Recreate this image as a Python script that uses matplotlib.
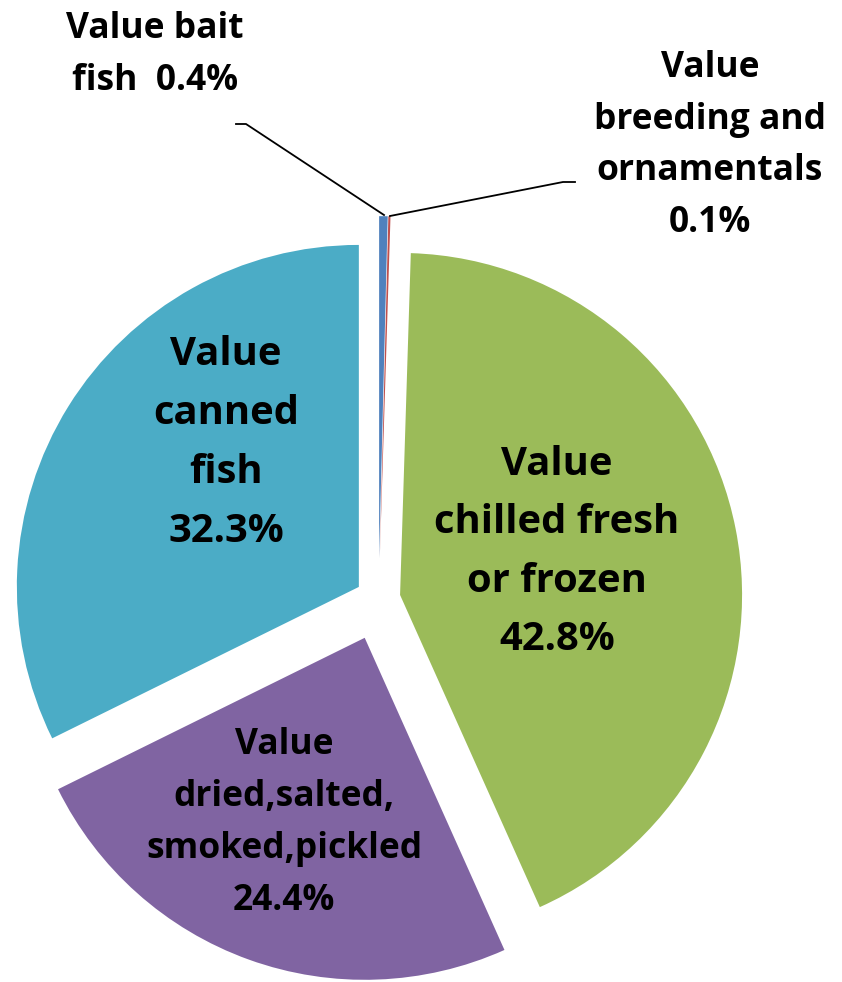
import matplotlib
matplotlib.use("Agg")
import matplotlib.pyplot as plt
from matplotlib.lines import Line2D

# data (share of value, %)
categories = ["Value bait fish", "Value breeding and ornamentals",
              "Value chilled fresh or frozen", "Value dried,salted,smoked,pickled",
              "Value canned fish"]
shares = [0.4, 0.1, 42.8, 24.4, 32.3]
colors = ["#4F81BD", "#C0504D", "#9BBB59", "#8064A2", "#4BACC6"]
explode = [0.12, 0.12, 0.064, 0.12, 0.068]

# label text, split the way the chart wraps it
label_lines = [
    ["Value bait", "fish  0.4%"],
    ["Value", "breeding and", "ornamentals", "0.1%"],
    ["Value", "chilled fresh", "or frozen", "42.8%"],
    ["Value", "dried,salted,", "smoked,pickled", "24.4%"],
    ["Value", "canned", "fish", "32.3%"],
]

W, H = 842, 982
fig = plt.figure(figsize=(W / 100, H / 100), dpi=100)
ax = fig.add_axes([0, 0, 1, 1])

# pie centre and radius in pixels
cx, cy, R = 378.6, 599.2, 342.0

ax.pie(shares, colors=colors, explode=explode, startangle=90,
       counterclock=False, wedgeprops=dict(linewidth=0))
ax.set_xlim(-cx / R, (W - cx) / R)
ax.set_ylim(-(H - cy) / R, cy / R)
ax.set_aspect("auto")
ax.axis("off")

# label placement: (centre x, first baseline y, line step, font size) in pixels
placement = [
    (155, 38, 52, 25.5),
    (710, 77, 51.7, 25.5),
    (557, 475, 58.3, 28.8),
    (284, 754, 52, 25.5),
    (226, 365, 59, 28.8),
]

for lines, (x, y0, step, fs) in zip(label_lines, placement):
    for i, line in enumerate(lines):
        fig.text(x / W, 1 - (y0 + i * step) / H, line, ha="center", va="baseline",
                 fontsize=fs, fontweight="bold", family=["Open Sans", "DejaVu Sans"],
                 color="black")

# leader lines for the two small slices
leaders = [
    [(236, 124), (246, 124), (384, 215)],
    [(390, 216), (563, 182), (575, 182)],
]
for pts in leaders:
    xs = [p[0] / W for p in pts]
    ys = [1 - p[1] / H for p in pts]
    fig.add_artist(Line2D(xs, ys, color="black", linewidth=1.3,
                          transform=fig.transFigure))

fig.savefig("out.png", dpi=100)
